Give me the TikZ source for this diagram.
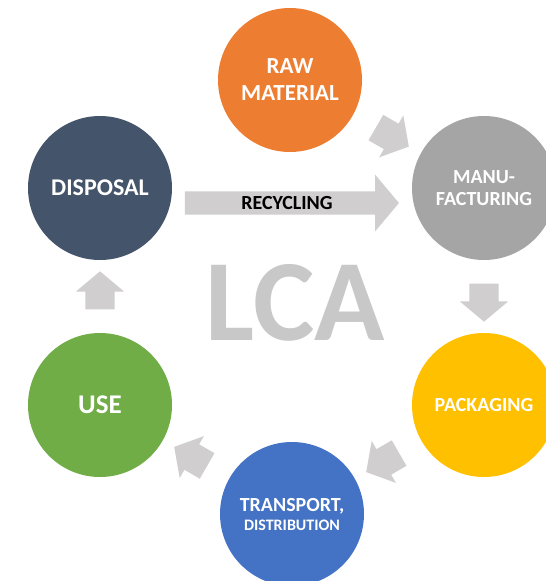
\documentclass[tikz,border=0pt]{standalone}
\usepackage{fontspec}
\setmainfont{Carlito}
\usetikzlibrary{shapes.arrows,calc}
\definecolor{rawcol}{HTML}{ED7D31}
\definecolor{manucol}{HTML}{A5A5A5}
\definecolor{packcol}{HTML}{FFC000}
\definecolor{transcol}{HTML}{4472C4}
\definecolor{usecol}{HTML}{70AD47}
\definecolor{dispcol}{HTML}{44546A}
\definecolor{flowgray}{HTML}{D0CECE}
\definecolor{lcagray}{HTML}{C8C8C8}
\tikzset{
  stage/.style={circle,minimum size=144pt,inner sep=0pt,text=white,align=center,font=\bfseries},
  flow/.style={single arrow,fill=flowgray,inner xsep=0pt,inner ysep=14.5pt,minimum height=38pt,
    single arrow head extend=9.5pt,single arrow tip angle=100}
}
\begin{document}
\begin{tikzpicture}[x=1pt,y=-1pt]
  \clip (0,0) rectangle (546,581);
  \fill[white] (0,0) rectangle (546,581);
  \node[stage,fill=rawcol,font=\bfseries\fontsize{23}{27}\selectfont] (raw) at (290,80) {RAW\\MATERIAL};
  \node[stage,fill=manucol,font=\bfseries\fontsize{20}{22}\selectfont] (manu) at (484,188) {MANU-\\FACTURING};
  \node[stage,fill=packcol,font=\bfseries\fontsize{20}{24}\selectfont] (pack) at (484,405) {PACKAGING};
  \node[stage,fill=transcol,font=\bfseries\fontsize{20}{22}\selectfont] (trans) at (292,514) {TRANSPORT,\\[-3pt]{\fontsize{16}{18}\selectfont DISTRIBUTION}};
  \node[stage,fill=usecol,font=\bfseries\fontsize{27}{30}\selectfont] (use) at (100,405) {USE};
  \node[stage,fill=dispcol,font=\bfseries\fontsize{24}{28}\selectfont] (disp) at (100,188) {DISPOSAL};
  \node[text=lcagray,font=\bfseries\fontsize{116}{120}\selectfont] (lca) at (295,303) {LCA};
  \node[flow,rotate=-30] (f1) at ($(raw)!0.5!(manu)$) {};
  \node[flow,rotate=-90] (f2) at ($(manu)!0.5!(pack)$) {};
  \node[flow,rotate=-150] (f3) at ($(pack)!0.5!(trans)$) {};
  \node[flow,rotate=150] (f4) at ($(trans)!0.5!(use)$) {};
  \node[flow,rotate=90] (f5) at ($(use)!0.5!(disp)$) {};
  \node[single arrow,fill=flowgray,inner xsep=0pt,inner ysep=5pt,text height=13pt,text depth=0pt,
    minimum height=214pt,single arrow head extend=16.5pt,single arrow tip angle=100,
    font=\bfseries\fontsize{20}{24}\selectfont] (recyc) at ($(disp.east)!0.5!(manu.west)+(-5,15)$) {RECYCLING\hspace{24pt}};
\end{tikzpicture}
\end{document}
